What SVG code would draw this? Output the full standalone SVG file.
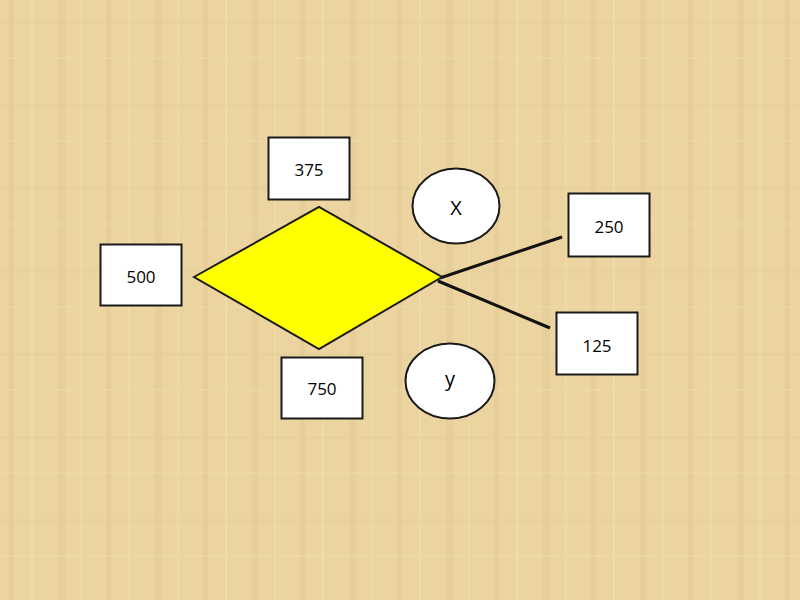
<svg xmlns="http://www.w3.org/2000/svg" width="800" height="600" viewBox="0 0 800 600">
<style>
.box{fill:#FFFFFF;stroke:#1A1A1A;stroke-width:2}
.ell{fill:#FFFFFF;stroke:#1A1A1A;stroke-width:2}
.lbl{font-family:"Open Sans","Liberation Sans",sans-serif;font-size:17px;fill:#000000;text-anchor:middle;dominant-baseline:central}
.big{font-size:20px}
.conn{stroke:#111111;stroke-width:3;fill:none}
</style>
<defs>
<pattern id="papyrus" width="97" height="83" patternUnits="userSpaceOnUse">
<rect width="97" height="83" fill="#EBD4A0"/>
<rect x="9" y="0" width="5" height="83" fill="#E2C891" opacity="0.45"/>
<rect x="31" y="0" width="2" height="83" fill="#F3E0B3" opacity="0.5"/>
<rect x="58" y="0" width="7" height="83" fill="#E0C68D" opacity="0.35"/>
<rect x="80" y="0" width="2" height="83" fill="#F2DDAE" opacity="0.5"/>
<rect x="0" y="21" width="97" height="3" fill="#E3CA93" opacity="0.3"/>
<rect x="0" y="57" width="97" height="2" fill="#F1DCAD" opacity="0.4"/>
</pattern>
</defs>
<rect width="800" height="600" fill="url(#papyrus)"/>
<g id="connectors">
<line class="conn" x1="440" y1="278" x2="562" y2="237"/>
<line class="conn" x1="438" y1="281" x2="550" y2="328"/>
</g>
<g id="diamond">
<polygon points="194,277 319,207 442,277 319,349" fill="#FFFF00" stroke="#1A1A1A" stroke-width="2"/>
</g>
<g id="n375">
<rect class="box" x="268.5" y="137.5" width="81" height="62"/>
<text class="lbl" x="309" y="169">375</text>
</g>
<g id="n500">
<rect class="box" x="100.5" y="244.5" width="81" height="61"/>
<text class="lbl" x="141" y="276">500</text>
</g>
<g id="n750">
<rect class="box" x="281.5" y="357.5" width="81" height="61"/>
<text class="lbl" x="322" y="388">750</text>
</g>
<g id="n250">
<rect class="box" x="568.5" y="193.5" width="81" height="63"/>
<text class="lbl" x="609" y="226">250</text>
</g>
<g id="n125">
<rect class="box" x="556.5" y="312.5" width="81" height="62"/>
<text class="lbl" x="597" y="345">125</text>
</g>
<g id="nx">
<ellipse class="ell" cx="456" cy="206" rx="43.5" ry="37.5"/>
<text class="lbl big" x="456" y="207">X</text>
</g>
<g id="ny">
<ellipse class="ell" cx="450" cy="381" rx="44.5" ry="37.5"/>
<text class="lbl big" x="450" y="378">y</text>
</g>
</svg>
